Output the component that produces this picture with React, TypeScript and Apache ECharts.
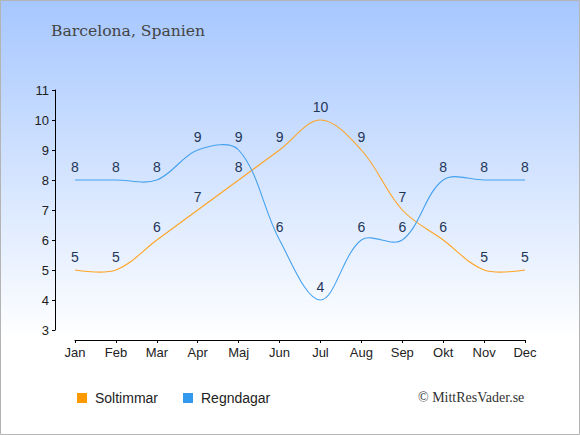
import React, { useEffect, useRef } from "react";
import * as echarts from "echarts";

const months = ["Jan", "Feb", "Mar", "Apr", "Maj", "Jun", "Jul", "Aug", "Sep", "Okt", "Nov", "Dec"];
const soltimmar = [5, 5, 6, 7, 8, 9, 10, 9, 7, 6, 5, 5];
const regndagar = [8, 8, 8, 9, 9, 6, 4, 6, 6, 8, 8, 8];
const yTicks = { min: 3, max: 11, interval: 1 };
const titleText = "Barcelona, Spanien";
const creditText = "© MittResVader.se";

const SMOOTH = 0.35;

function makeRenderItem(color: string) {
  return (params: any, api: any) => {
    const i = params.dataIndexInside;
    const n = params.dataInsideLength;
    if (i >= n - 1) return null;
    const pt = (k: number) => {
      const kk = Math.max(0, Math.min(n - 1, k));
      return api.coord([api.value(0, kk), api.value(1, kk)]);
    };
    const p0 = pt(i - 1);
    const p1 = pt(i);
    const p2 = pt(i + 1);
    const p3 = pt(i + 2);
    const len = (a: number[], b: number[]) => Math.hypot(b[0] - a[0], b[1] - a[1]);
    let c1 = p1;
    if (i > 0) {
      const d0 = len(p0, p1);
      const d1 = len(p1, p2);
      const r = d1 / (d0 + d1);
      c1 = [p1[0] + (p2[0] - p0[0]) * SMOOTH * r, p1[1] + (p2[1] - p0[1]) * SMOOTH * r];
    }
    let c2 = p2;
    if (i + 1 < n - 1) {
      const d0 = len(p1, p2);
      const d1 = len(p2, p3);
      const r = d0 / (d0 + d1);
      c2 = [p2[0] - (p3[0] - p1[0]) * SMOOTH * r, p2[1] - (p3[1] - p1[1]) * SMOOTH * r];
    }
    return {
      type: "bezierCurve",
      shape: { x1: p1[0], y1: p1[1], cpx1: c1[0], cpy1: c1[1], cpx2: c2[0], cpy2: c2[1], x2: p2[0], y2: p2[1] },
      style: { stroke: color, lineWidth: 1.1, fill: "none" },
      silent: true,
    };
  };
}

export default function App() {
  const ref = useRef<HTMLDivElement>(null);
  useEffect(() => {
    const chart = echarts.init(ref.current!, null, { renderer: "svg" });
    const labelStyle = {
      show: true,
      position: "top",
      distance: 6,
      color: "#1f3657",
      fontSize: 14,
      fontFamily: "Liberation Sans, Arial, sans-serif",
    };
    const lineSeries = (name: string, data: number[], color: string) => ({
      name,
      type: "line",
      data,
      symbol: "circle",
      symbolSize: 0.01,
      showSymbol: true,
      color,
      itemStyle: { color, borderWidth: 0 },
      lineStyle: { opacity: 0, width: 0 },
      label: labelStyle,
      z: 3,
    });
    const curveSeries = (name: string, data: number[], color: string) => ({
      name,
      type: "custom",
      data: data.map((v, i) => [i, v]),
      renderItem: makeRenderItem(color),
      silent: true,
      z: 2,
    });
    chart.setOption({
      animation: false,
      backgroundColor: new echarts.graphic.LinearGradient(0, 0, 0, 1, [
        { offset: 0, color: "#a6c7ff" },
        { offset: 0.78, color: "#ffffff" },
        { offset: 1, color: "#ffffff" },
      ]),
      grid: { left: 75, right: 55, top: 90, bottom: 105, containLabel: false },
      xAxis: {
        type: "category",
        data: months,
        boundaryGap: false,
        offset: 10,
        axisLine: { show: true, lineStyle: { color: "#000", width: 1 } },
        axisTick: { show: true, length: 3, alignWithLabel: true, lineStyle: { color: "#000" } },
        axisLabel: { color: "#222", fontSize: 13, margin: 6, fontFamily: "Liberation Sans, Arial, sans-serif" },
        splitLine: { show: false },
      },
      yAxis: {
        type: "value",
        min: yTicks.min,
        max: yTicks.max,
        interval: yTicks.interval,
        offset: 20,
        axisLine: { show: true, lineStyle: { color: "#000", width: 1 } },
        axisTick: { show: true, length: 3, lineStyle: { color: "#000" } },
        axisLabel: { color: "#222", fontSize: 13, margin: 6, fontFamily: "Liberation Sans, Arial, sans-serif" },
        splitLine: { show: false },
      },
      legend: {
        left: 77,
        top: 391,
        padding: 0,
        icon: "rect",
        itemWidth: 10,
        itemHeight: 10,
        itemGap: 25,
        textStyle: {
          color: "#222",
          fontSize: 14,
          fontFamily: "Liberation Sans, Arial, sans-serif",
          padding: [0, 0, 0, 3],
        },
        data: ["Soltimmar", "Regndagar"],
      },
      series: [
        curveSeries("Soltimmar-kurva", soltimmar, "#ffa424"),
        curveSeries("Regndagar-kurva", regndagar, "#45a1ee"),
        lineSeries("Soltimmar", soltimmar, "#ff9900"),
        lineSeries("Regndagar", regndagar, "#3399ee"),
      ],
      graphic: [
        {
          type: "rect",
          shape: { x: 0.5, y: 0.5, width: 579, height: 434 },
          style: { fill: "none", stroke: "#b4b4b4", lineWidth: 1 },
          silent: true,
        },
        {
          type: "text",
          left: 51,
          top: 23,
          style: { text: titleText, fill: "#444", fontSize: 15.6, fontFamily: "DejaVu Serif, serif" },
        },
        {
          type: "text",
          left: 418,
          top: 390,
          style: { text: creditText, fill: "#333", fontSize: 14, fontFamily: "Liberation Serif, serif" },
        },
      ],
    });
    return () => chart.dispose();
  }, []);
  return <div ref={ref} style={{ position: "fixed", left: 0, top: 0, width: 580, height: 435 }} />;
}
